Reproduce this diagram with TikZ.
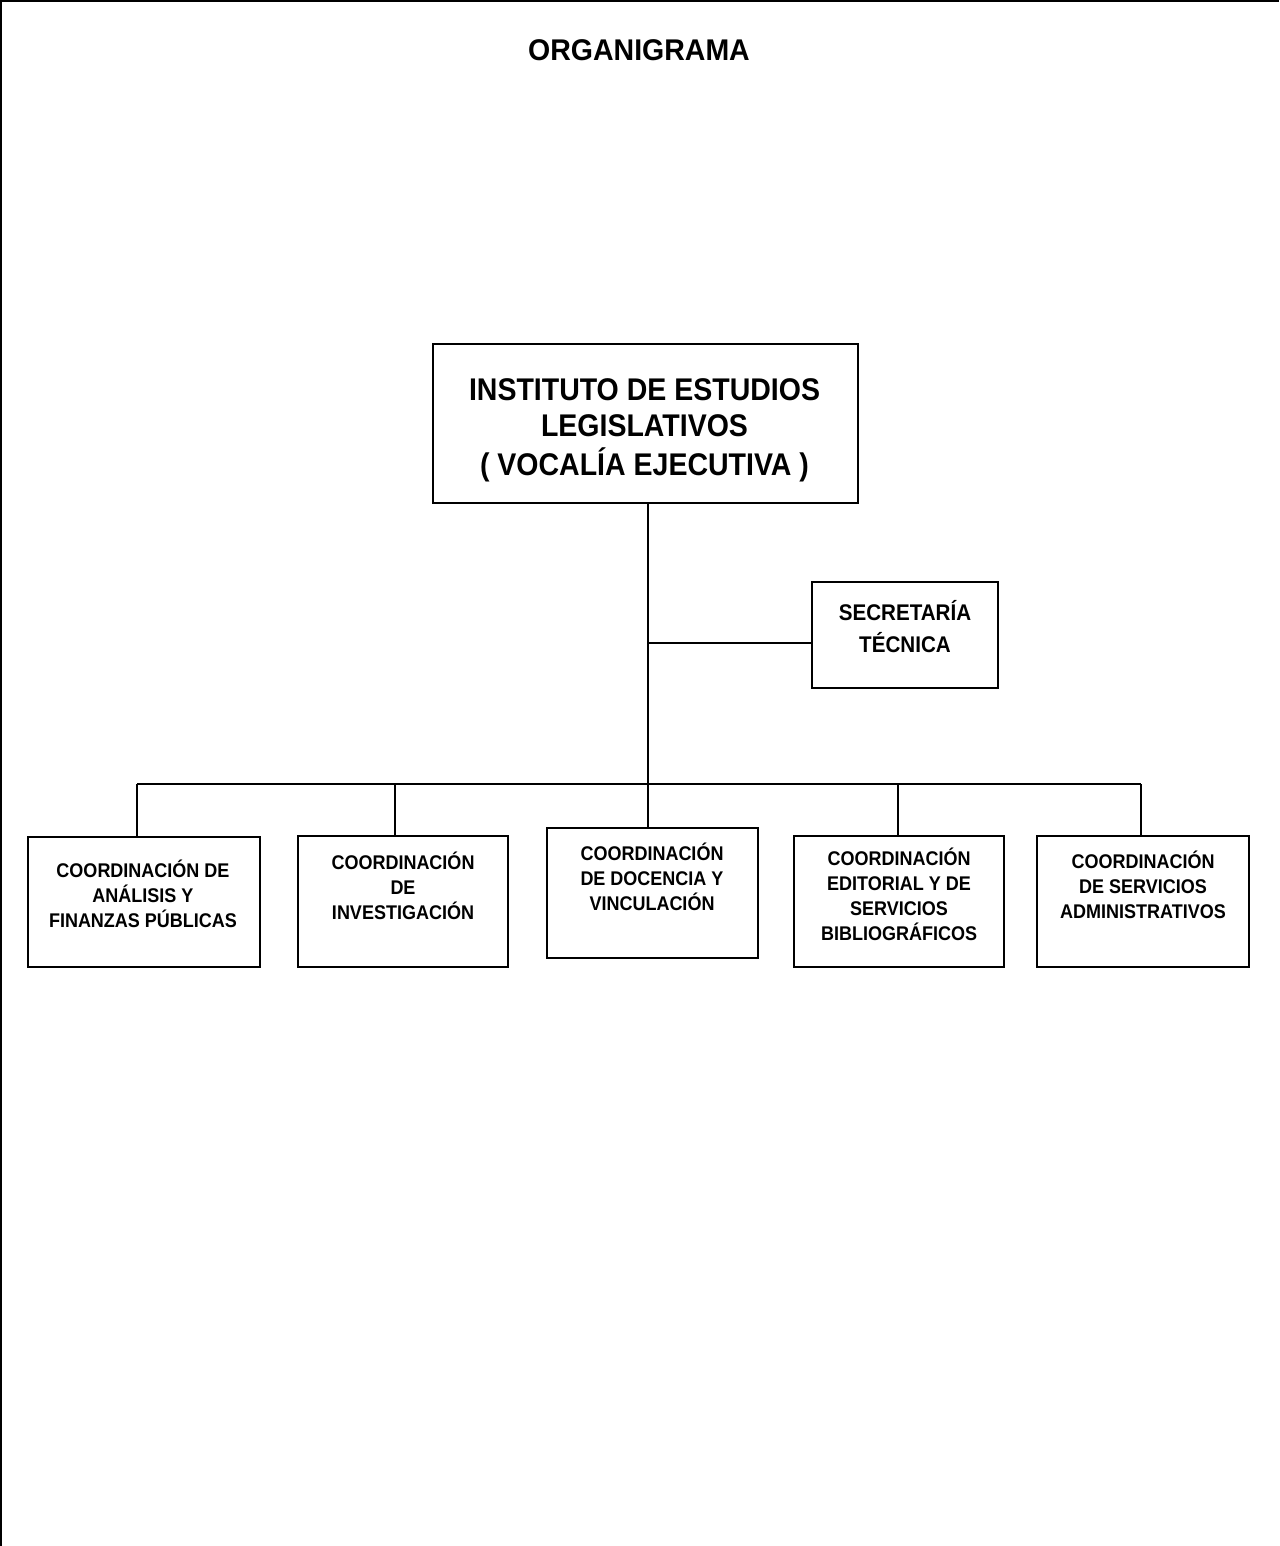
\documentclass[tikz,border=0pt]{standalone}
\usepackage{fontspec}
\setmainfont{Liberation Sans}
\usepackage{graphicx}
\newcommand\mytx[3]{\scalebox{1}[1.1]{\fontsize{#1}{#2}\selectfont\begin{tabular}{@{}c@{}}#3\end{tabular}}}
\begin{document}
\begin{tikzpicture}[x=1pt,y=-1pt,
  orgbox/.style={draw, line width=1.6pt, rectangle, inner sep=0pt},
  conn/.style={line width=1.5pt},
  lbl/.style={font=\bfseries, align=center, inner sep=0pt}]
\useasboundingbox (0,0) rectangle (1279,1546);
% page border (top and left only)
\draw[line width=2pt] (0,1) -- (1279,1);
\draw[line width=2.5pt] (1.2,0) -- (1.2,1546);

% title
\node[lbl] (title) at (639,50) {\scalebox{1}[1.05]{\fontsize{28.5}{34}\selectfont ORGANIGRAMA}};

% boxes
\node[orgbox, minimum width=425pt, minimum height=159pt] (main) at (645.5,423.5) {};
\node[lbl] (maintx) at (644.5,431) {\mytx{28.5}{32.7}{INSTITUTO DE ESTUDIOS\\LEGISLATIVOS\\( VOCALÍA EJECUTIVA )}};

\node[orgbox, minimum width=186pt, minimum height=106pt] (sec) at (905,635) {};
\node[lbl] (sectx) at (905,630) {\mytx{20.6}{29}{SECRETARÍA\\TÉCNICA}};

\node[orgbox, minimum width=232pt, minimum height=130pt] (d1) at (144.2,901.7) {};
\node[orgbox, minimum width=210pt, minimum height=131pt] (d2) at (403,901.5) {};
\node[orgbox, minimum width=211pt, minimum height=130pt] (d3) at (652.5,893) {};
\node[orgbox, minimum width=210pt, minimum height=131pt] (d4) at (899,901.5) {};
\node[orgbox, minimum width=212pt, minimum height=131pt] (d5) at (1143,901.5) {};

\node[lbl] (t1) at (143,897) {\mytx{18}{22.7}{COORDINACIÓN DE\\ANÁLISIS Y\\FINANZAS PÚBLICAS}};
\node[lbl] (t2) at (403,889) {\mytx{18}{22.7}{COORDINACIÓN\\DE\\INVESTIGACIÓN}};
\node[lbl] (t3) at (652,880) {\mytx{18}{22.7}{COORDINACIÓN\\DE DOCENCIA Y\\VINCULACIÓN}};
\node[lbl] (t4) at (899,898) {\mytx{18}{22.7}{COORDINACIÓN\\EDITORIAL Y DE\\SERVICIOS\\BIBLIOGRÁFICOS}};
\node[lbl] (t5) at (1143,888) {\mytx{18}{22.7}{COORDINACIÓN\\DE SERVICIOS\\ADMINISTRATIVOS}};

% connector coordinates
\coordinate (b1) at (137,784);
\coordinate (b2) at (395,784);
\coordinate (b3) at (648,784);
\coordinate (b4) at (898,784);
\coordinate (b5) at (1141,784);
\coordinate (sj) at (648,643);

% connectors
\draw[conn] (main.south -| b3) -- (d3.north -| b3);
\draw[conn] (sj) -- (sec.west |- sj);
\draw[conn] (b1) -- (b5);
\draw[conn] (b1) -- (d1.north -| b1);
\draw[conn] (b2) -- (d2.north -| b2);
\draw[conn] (b4) -- (d4.north -| b4);
\draw[conn] (b5) -- (d5.north -| b5);
\end{tikzpicture}
\end{document}
